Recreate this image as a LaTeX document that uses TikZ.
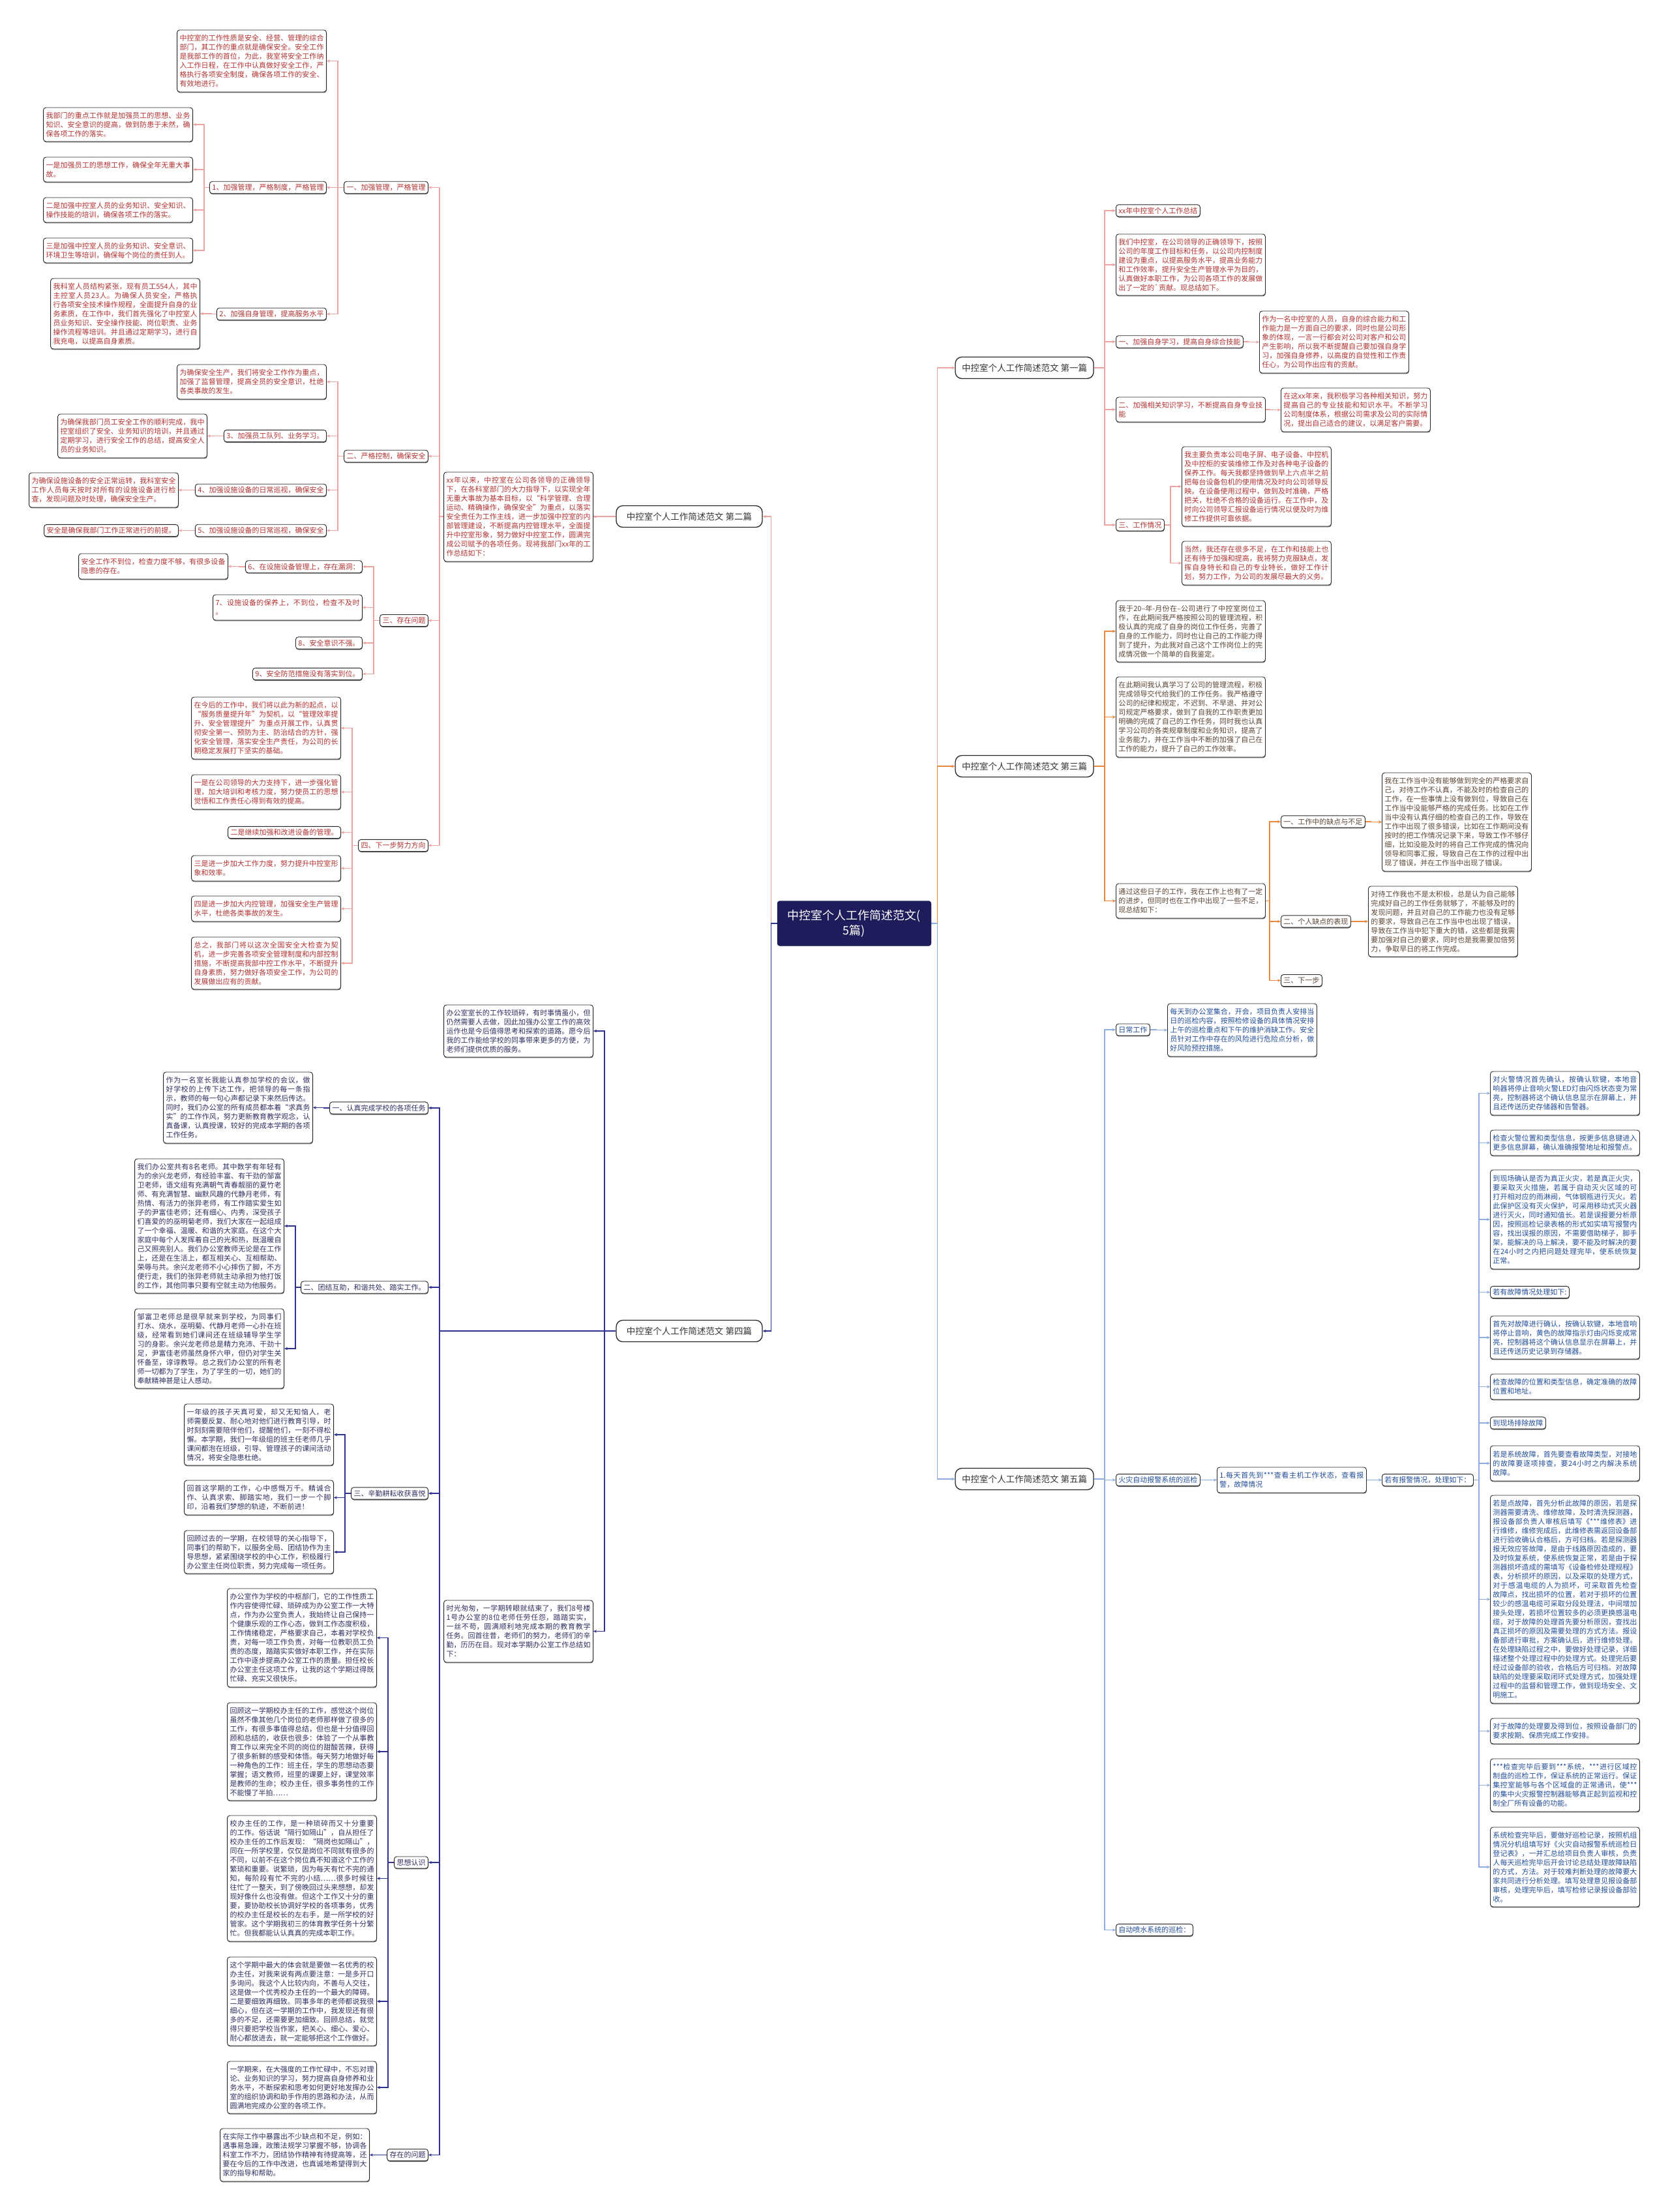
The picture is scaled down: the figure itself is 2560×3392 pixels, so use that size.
\documentclass[tikz,border=0pt]{standalone}
\usepackage{fontspec}
\setmainfont{Noto Sans CJK SC}
\usetikzlibrary{shapes,positioning,calc,arrows.meta,backgrounds,shadows}
\definecolor{redT}{rgb}{0.70,0.20,0.20}
\definecolor{redL}{rgb}{0.92,0.64,0.63}
\definecolor{orgT}{rgb}{0.36,0.27,0.21}
\definecolor{orgL}{rgb}{0.91,0.53,0.24}
\definecolor{navT}{rgb}{0.19,0.19,0.38}
\definecolor{navL}{rgb}{0.18,0.20,0.56}
\definecolor{bluT}{rgb}{0.14,0.31,0.60}
\definecolor{bluL}{rgb}{0.55,0.68,0.87}
\definecolor{rootC}{rgb}{0.12,0.11,0.36}
\XeTeXlinebreaklocale "zh"
\XeTeXlinebreakskip = 0pt plus 1pt

\begin{document}
\begin{tikzpicture}
  [x=1pt,y=-1pt,
   baseN/.style={draw=black!85,line width=0.9pt,rounded corners=4pt,fill=white,
     inner xsep=4pt,inner ysep=4pt,font=\fontsize{11}{14}\selectfont,
     drop shadow={shadow xshift=0.4pt,shadow yshift=-1.4pt,fill=black!55,opacity=1}},
   textN/.style={baseN,text width=221pt,align=justify},
   leafN/.style={baseN},
   topN/.style={draw=black!85,line width=1.3pt,rounded corners=10pt,fill=white,
     font=\fontsize{13.5}{16}\selectfont,text=black!80,minimum height=33pt},
   rootN/.style={draw=rootC,fill=rootC,rounded corners=4pt,text=white,align=center,
     font=\fontsize{18}{23}\selectfont,minimum width=236pt,minimum height=69pt},
   rT/.style={text=redT}, oT/.style={text=orgT}, nT/.style={text=navT}, bT/.style={text=bluT},
   linkR/.style={draw=redL,line width=1.2pt,-{Stealth[length=5pt,width=4.5pt]}},
   linkO/.style={draw=orgL,line width=1.2pt,-{Stealth[length=5pt,width=4.5pt]}},
   linkN/.style={draw=navL,line width=1.2pt,-{Stealth[length=5pt,width=4.5pt]}},
   linkB/.style={draw=bluL,line width=1.2pt,-{Stealth[length=5pt,width=4.5pt]}}]

  \useasboundingbox (0,0) rectangle (2560,3392);

  % root
  \node[rootN] (root) at (1310,1416) {中控室个人工作简述范文(\\5篇)};

  % main branches
  \node[topN,minimum width=224pt] (L2) at (1057,792) {中控室个人工作简述范文 第二篇};
  \node[topN,minimum width=224pt] (L4) at (1057,2041) {中控室个人工作简述范文 第四篇};
  \node[topN,minimum width=212pt] (L1) at (1571,564) {中控室个人工作简述范文 第一篇};
  \node[topN,minimum width=212pt] (L3) at (1571,1175) {中控室个人工作简述范文 第三篇};
  \node[topN,minimum width=212pt] (L5) at (1571,2268) {中控室个人工作简述范文 第五篇};

  % ---- second part (left, top)
  \node[textN,rT,anchor=east,minimum height=137pt] (intro2) at (910,792.5) {xx年以来，中控室在公司各领导的正确领导下，在各科室部门的大力指导下，以实现全年无重大事故为基本目标，以“科学管理、合理运动、精确操作，确保安全”为重点，以落实安全责任为工作主线，进一步加强中控室的内部管理建设，不断提高内控管理水平，全面提升中控室形象，努力做好中控室工作，圆满完成公司赋予的各项任务。现将我部门xx年的工作总结如下：};
  \node[leafN,rT,anchor=east] (k1) at (657,287.5) {一、加强管理，严格管理};
  \node[leafN,rT,anchor=east] (k2) at (657,699.5) {二、严格控制，确保安全};
  \node[leafN,rT,anchor=east] (k3) at (657,951.5) {三、存在问题};
  \node[leafN,rT,anchor=east] (k4) at (657,1296.5) {四、下一步努力方向};

  \node[textN,rT,anchor=east,minimum height=95pt] (a1) at (501,93.5) {中控室的工作性质是安全、经营、管理的综合部门，其工作的重点就是确保安全。安全工作是我部工作的首位，为此，我室将安全工作纳入工作日程，在工作中认真做好安全工作，严格执行各项安全制度，确保各项工作的安全、有效地进行。};
  \node[leafN,rT,anchor=east] (s1) at (501,287.5) {1、加强管理，严格制度，严格管理};
  \node[leafN,rT,anchor=east] (s2) at (501,481.5) {2、加强自身管理，提高服务水平};
  \node[textN,rT,anchor=east,minimum height=52pt] (b1) at (296,191) {我部门的重点工作就是加强员工的思想、业务知识、安全意识的提高，做到防患于未然，确保各项工作的落实。};
  \node[textN,rT,anchor=east,minimum height=38pt] (b2) at (296,260) {一是加强员工的思想工作，确保全年无重大事故。};
  \node[textN,rT,anchor=east,minimum height=38pt] (b3) at (296,322) {二是加强中控室人员的业务知识、安全知识、操作技能的培训，确保各项工作的落实。};
  \node[textN,rT,anchor=east,minimum height=38pt] (b4) at (296,384) {三是加强中控室人员的业务知识、安全意识、环境卫生等培训，确保每个岗位的责任到人。};
  \node[textN,rT,anchor=east,minimum height=108pt] (c1) at (307,481) {我科室人员结构紧张，现有员工554人，其中主控室人员23人。为确保人员安全，严格执行各项安全技术操作规程，全面提升自身的业务素质，在工作中，我们首先强化了中控室人员业务知识、安全操作技能、岗位职责、业务操作流程等培训。并且通过定期学习，进行自我充电，以提高自身素质。};

  \node[textN,rT,anchor=east,minimum height=53pt] (d0) at (501,585.5) {为确保安全生产，我们将安全工作作为重点，加强了监督管理，提高全员的安全意识，杜绝各类事故的发生。};
  \node[leafN,rT,anchor=east] (s3) at (501,668.5) {3、加强员工队列、业务学习。};
  \node[leafN,rT,anchor=east] (s4) at (501,751.5) {4、加强设施设备的日常巡视，确保安全};
  \node[leafN,rT,anchor=east] (s5) at (501,813.5) {5、加强设施设备的日常巡视，确保安全};
  \node[textN,rT,anchor=east,minimum height=67pt] (d3) at (318,668.5) {为确保我部门员工安全工作的顺利完成，我中控室组织了安全、业务知识的培训，并且通过定期学习，进行安全工作的总结，提高安全人员的业务知识。};
  \node[textN,rT,anchor=east,minimum height=53pt] (d4) at (274,751.5) {为确保设施设备的安全正常运转，我科室安全工作人员每天按时对所有的设施设备进行检查，发现问题及时处理，确保安全生产。};
  \node[leafN,rT,anchor=east] (d5) at (274,813.5) {安全是确保我部门工作正常进行的前提。};

  \node[leafN,rT,anchor=east] (s6) at (556,869) {6、在设施设备管理上，存在漏洞：};
  \node[textN,rT,anchor=east,minimum height=39pt] (s7) at (556,931.5) {7、设施设备的保养上，不到位，检查不及时 。};
  \node[leafN,rT,anchor=east] (s8) at (556,986) {8、安全意识不强。};
  \node[leafN,rT,anchor=east] (s9) at (556,1033.5) {9、安全防范措施没有落实到位。};
  \node[textN,rT,anchor=east,minimum height=39pt] (d6) at (350,868.5) {安全工作不到位，检查力度不够，有很多设备隐患的存在。};

  \node[textN,rT,anchor=east,minimum height=95pt] (e1) at (523,1116.5) {在今后的工作中，我们将以此为新的起点，以“服务质量提升年”为契机，以“管理效率提升、安全管理提升”为重点开展工作，认真贯彻安全第一、预防为主、防治结合的方针，强化安全管理，落实安全生产责任，为公司的长期稳定发展打下坚实的基础。};
  \node[textN,rT,anchor=east,minimum height=53pt] (e2) at (523,1214.5) {一是在公司领导的大力支持下，进一步强化管理，加大培训和考核力度，努力使员工的思想觉悟和工作责任心得到有效的提高。};
  \node[leafN,rT,anchor=east] (e3) at (523,1276.5) {二是继续加强和改进设备的管理。};
  \node[textN,rT,anchor=east,minimum height=39pt] (e4) at (523,1331.5) {三是进一步加大工作力度，努力提升中控室形象和效率。};
  \node[textN,rT,anchor=east,minimum height=39pt] (e5) at (523,1393.5) {四是进一步加大内控管理，加强安全生产管理水平，杜绝各类事故的发生。};
  \node[textN,rT,anchor=east,minimum height=80pt] (e6) at (523,1477) {总之，我部门将以这次全国安全大检查为契机，进一步完善各项安全管理制度和内部控制措施，不断提高我部中控工作水平，不断提升自身素质，努力做好各项安全工作，为公司的发展做出应有的贡献。};

  % ---- fourth part (left, bottom)
  \node[textN,nT,anchor=east,minimum height=80pt] (f0) at (910,1581) {办公室室长的工作较琐碎，有时事情虽小，但仍然需要人去做，因此加强办公室工作的高效运作也是今后值得思考和探索的道路。愿今后我的工作能给学校的同事带来更多的方便，为老师们提供优质的服务。};
  \node[leafN,nT,anchor=east] (g1) at (657,1699) {一、认真完成学校的各项任务};
  \node[leafN,nT,anchor=east] (g2) at (657,1974) {二、团结互助，和谐共处、踏实工作。};
  \node[leafN,nT,anchor=east] (g3) at (657,2290) {三、辛勤耕耘收获喜悦};
  \node[textN,nT,anchor=east,minimum height=95pt] (f1) at (910,2501.5) {时光匆匆，一学期转眼就结束了，我们8号楼1号办公室的8位老师任劳任怨，踏踏实实，一丝不苟，圆满顺利地完成本期的教育教学任务。回首往昔，老师们的努力，老师们的辛勤，历历在目。现对本学期办公室工作总结如下：};
  \node[leafN,nT,anchor=east] (g4) at (657,2856) {思想认识};
  \node[leafN,nT,anchor=east] (g5) at (657,3304.5) {存在的问题};

  \node[textN,nT,anchor=east,minimum height=109pt] (h1) at (480,1698.5) {作为一名室长我能认真参加学校的会议，做好学校的上传下达工作，把领导的每一条指示，教师的每一句心声都记录下来然后传达。同时，我们办公室的所有成员都本着“求真务实”的工作作风，努力更新教育教学观念，认真备课，认真授课，较好的完成本学期的各项工作任务。};
  \node[textN,nT,anchor=east,minimum height=206pt] (h2) at (436,1880) {我们办公室共有8名老师。其中数学有年轻有为的余兴龙老师，有经验丰富、有干劲的邹富卫老师，语文组有充满朝气青春靓丽的夏竹老师、有充满智慧、幽默风趣的代静月老师，有热情、有活力的张异老师，有工作踏实爱生如子的尹富佳老师；还有细心、内秀，深受孩子们喜爱的的巫明菊老师，我们大家在一起组成了一个幸福、温暖、和谐的大家庭。在这个大家庭中每个人发挥着自己的光和热，既温暖自己又照亮别人。我们办公室教师无论是在工作上，还是在生活上，都互相关心、互相帮助、荣辱与共。余兴龙老师不小心摔伤了脚，不方便行走，我们的张异老师就主动承担为他打饭的工作，其他同事只要有空就主动为他服务。};
  \node[textN,nT,anchor=east,minimum height=122pt] (h3) at (436,2068) {邹富卫老师总是很早就来到学校，为同事们打水、烧水，巫明菊、代静月老师一心扑在班级，经常看到她们课间还在班级辅导学生学习的身影。余兴龙老师总是精力充沛、干劲十足，尹富佳老师虽然身怀六甲，但仍对学生关怀备至，谆谆教导。总之我们办公室的所有老师一切都为了学生，为了学生的一切，她们的奉献精神甚是让人感动。};
  \node[textN,nT,anchor=east,minimum height=94pt] (h4) at (512,2200) {一年级的孩子天真可爱，却又无知恼人，老师需要反复、耐心地对他们进行教育引导，时时刻刻需要陪伴他们，提醒他们，一刻不得松懈。本学期，我们一年级组的班主任老师几乎课间都泡在班级，引导、管理孩子的课间活动情况，将安全隐患杜绝。};
  \node[textN,nT,anchor=east,minimum height=53pt] (h5) at (512,2296.5) {回首这学期的工作，心中感慨万千。精诚合作、认真求索、脚踏实地，我们一步一个脚印，沿着我们梦想的轨迹，不断前进！};
  \node[textN,nT,anchor=east,minimum height=66pt] (h6) at (512,2380) {回顾过去的一学期，在校领导的关心指导下，同事们的帮助下，以服务全局、团结协作为主导思想，紧紧围绕学校的中心工作，积极履行办公室主任岗位职责，努力完成每一项任务。};
  \node[textN,nT,anchor=east,minimum height=151pt] (h7) at (578,2511.5) {办公室作为学校的中枢部门，它的工作性质工作内容使得忙碌、琐碎成为办公室工作一大特点，作为办公室负责人，我始终让自己保持一个健康乐观的工作心态，做到工作态度积极，工作情绪稳定，严格要求自己，本着对学校负责，对每一项工作负责，对每一位教职员工负责的态度，踏踏实实做好本职工作，并在实际工作中逐步提高办公室工作的质量。担任校长办公室主任这项工作，让我的这个学期过得既忙碌、充实又很快乐。};
  \node[textN,nT,anchor=east,minimum height=150pt] (h8) at (578,2686) {回顾这一学期校办主任的工作，感觉这个岗位虽然不像其他几个岗位的老师那样做了很多的工作，有很多事值得总结，但也是十分值得回顾和总结的，收获也很多：体验了一个从事教育工作以来完全不同的岗位的甜酸苦辣，获得了很多新鲜的感受和体悟。每天努力地做好每一种角色的工作：班主任，学生的思想动态要掌握；语文教师，班里的课要上好，课堂效率是教师的生命；校办主任，很多事务性的工作不能慢了半拍……};
  \node[textN,nT,anchor=east,minimum height=193pt] (h9) at (578,2880.5) {校办主任的工作，是一种琐碎而又十分重要的工作。俗话说“隔行如隔山”，自从担任了校办主任的工作后发现：“隔岗也如隔山”，同在一所学校里，仅仅是岗位不同就有很多的不同，以前不在这个岗位真不知道这个工作的繁琐和重要。说繁琐，因为每天有忙不完的通知，每阶段有忙不完的小结……很多时候往往忙了一整天，到了傍晚回过头来想想，却发现好像什么也没有做。但这个工作又十分的重要，要协助校长协调好学校的各项事务，优秀的校办主任是校长的左右手，是一所学校的好管家。这个学期我初三的体育教学任务十分繁忙。但我都能认认真真的完成本职工作。};
  \node[textN,nT,anchor=east,minimum height=136pt] (h10) at (578,3069) {这个学期中最大的体会就是要做一名优秀的校办主任，对我来说有两点要注意：一是多开口多询问。我这个人比较内向，不善与人交往，这是做一个优秀校办主任的一个最大的障碍。二是要细致再细致。同事多年的老师都说我很细心，但在这一学期的工作中，我发现还有很多的不足，还需要更加细致。回顾总结，就觉得只要把学校当作家，把关心、细心、爱心、耐心都放进去，就一定能够把这个工作做好。};
  \node[textN,nT,anchor=east,minimum height=80pt] (h11) at (578,3201) {一学期来，在大强度的工作忙碌中，不忘对理论、业务知识的学习，努力提高自身修养和业务水平，不断探索和思考如何更好地发挥办公室的组织协调和助手作用的思路和办法，从而圆满地完成办公室的各项工作。};
  \node[textN,nT,anchor=east,minimum height=81pt] (h12) at (567,3304.5) {在实际工作中暴露出不少缺点和不足，例如：遇事易急躁，政策法规学习掌握不够，协调各科室工作不力，团结协作精神有待提高等，还要在今后的工作中改进，也真诚地希望得到大家的指导和帮助。};

  % ---- first part (right, top)
  \node[leafN,rT,anchor=west] (m0) at (1711,323) {xx年中控室个人工作总结};
  \node[textN,rT,anchor=west,minimum height=94pt] (m1) at (1711,406) {我们中控室，在公司领导的正确领导下，按照公司的年度工作目标和任务，以公司内控制度建设为重点，以提高服务水平，提高业务能力和工作效率，提升安全生产管理水平为目的，认真做好本职工作，为公司各项工作的发展做出了一定的\textasciigrave 贡献。现总结如下。};
  \node[leafN,rT,anchor=west] (n1) at (1711,524) {一、加强自身学习，提高自身综合技能};
  \node[textN,rT,anchor=west,minimum height=38pt] (n2) at (1711,628) {二、加强相关知识学习，不断提高自身专业技能};
  \node[leafN,rT,anchor=west] (n3) at (1711,805) {三、工作情况};
  \node[textN,rT,anchor=west,minimum height=95pt] (p1) at (1931,524.5) {作为一名中控室的人员，自身的综合能力和工作能力是一方面自己的要求，同时也是公司形象的体现，一言一行都会对公司对客户和公司产生影响，所以我不断提醒自己要加强自身学习，加强自身修养，以高度的自觉性和工作责任心，为公司作出应有的贡献。};
  \node[textN,rT,anchor=west,minimum height=67pt] (p2) at (1964,628.5) {在这xx年来，我积极学习各种相关知识，努力提高自己的专业技能和知识水平。不断学习公司制度体系，根据公司需求及公司的实际情况，提出自己适合的建议，以满足客户需要。};
  \node[textN,rT,anchor=west,minimum height=122pt] (p3) at (1812,746) {我主要负责本公司电子屏、电子设备、中控机及中控柜的安装维修工作及对各种电子设备的保养工作。每天我都坚持做到早上六点半之前把每台设备包机的使用情况及时向公司领导反映。在设备使用过程中，做到及时准确，严格把关，杜绝不合格的设备运行。在工作中，及时向公司领导汇报设备运行情况以便及时为维修工作提供可靠依据。};
  \node[textN,rT,anchor=west,minimum height=67pt] (p4) at (1812,863.5) {当然，我还存在很多不足，在工作和技能上也还有待于加强和提高，我将努力克服缺点，发挥自身特长和自己的专业特长，做好工作计划，努力工作，为公司的发展尽最大的义务。};

  % ---- third part (right, middle)
  \node[textN,oT,anchor=west,minimum height=94pt] (q1) at (1711,968) {我于20--年-月份在--公司进行了中控室岗位工作，在此期间我严格按照公司的管理流程，积极认真的完成了自身的岗位工作任务，完善了自身的工作能力，同时也让自己的工作能力得到了提升，为此我对自己这个工作岗位上的完成情况做一个简单的自我鉴定。};
  \node[textN,oT,anchor=west,minimum height=123pt] (q2) at (1711,1099.5) {在此期间我认真学习了公司的管理流程，积极完成领导交代给我们的工作任务。我严格遵守公司的纪律和规定，不迟到、不早退、并对公司规定严格要求，做到了自我的工作职责更加明确的完成了自己的工作任务，同时我也认真学习公司的各类规章制度和业务知识，提高了业务能力，并在工作当中不断的加强了自己在工作的能力，提升了自己的工作效率。};
  \node[textN,oT,anchor=west,minimum height=53pt] (q3) at (1711,1381.5) {通过这些日子的工作，我在工作上也有了一定的进步，但同时也在工作中出现了一些不足，现总结如下：};
  \node[leafN,oT,anchor=west] (r1) at (1964,1260) {一、工作中的缺点与不足};
  \node[leafN,oT,anchor=west] (r2) at (1964,1413) {二、个人缺点的表现};
  \node[leafN,oT,anchor=west] (r3) at (1964,1503.5) {三、下一步};
  \node[textN,oT,anchor=west,minimum height=151pt] (t1) at (2119,1260.5) {我在工作当中没有能够做到完全的严格要求自己，对待工作不认真，不能及时的检查自己的工作，在一些事情上没有做到位，导致自己在工作当中没能够严格的完成任务。比如在工作当中没有认真仔细的检查自己的工作，导致在工作中出现了很多错误，比如在工作期间没有按时的把工作情况记录下来，导致工作不够仔细，比如没能及时的将自己工作完成的情况向领导和同事汇报，导致自己在工作的过程中出现了错误，并在工作当中出现了错误。};
  \node[textN,oT,anchor=west,minimum height=108pt] (t2) at (2098,1413) {对待工作我也不是太积极，总是认为自己能够完成好自己的工作任务就够了，不能够及时的发现问题，并且对自己的工作能力也没有足够的要求，导致自己在工作当中也出现了错误，导致在工作当中犯下重大的错，这些都是我需要加强对自己的要求，同时也是我需要加倍努力，争取早日的将工作完成。};

  % ---- fifth part (right, bottom)
  \node[leafN,bT,anchor=west] (u1) at (1711,1579) {日常工作};
  \node[textN,bT,anchor=west,minimum height=81pt] (v1) at (1790,1579.5) {每天到办公室集合，开会，项目负责人安排当日的巡检内容，按照检修设备的具体情况安排上午的巡检重点和下午的维护消缺工作。安全员针对工作中存在的风险进行危险点分析，做好风险预控措施。};
  \node[leafN,bT,anchor=west] (u2) at (1711,2269.5) {火灾自动报警系统的巡检};
  \node[textN,bT,anchor=west,minimum height=39pt] (v2) at (1866,2269.5) {1.每天首先到***查看主机工作状态，查看报警，故障情况};
  \node[leafN,bT,anchor=west] (v3) at (2119,2269.5) {若有报警情况，处理如下：};
  \node[leafN,bT,anchor=west] (u3) at (1711,2959.5) {自动喷水系统的巡检：};

  \node[textN,bT,anchor=west,minimum height=67pt] (w1) at (2285,1676.5) {对火警情况首先确认，按确认软键，本地音响器将停止音响火警LED灯由闪烁状态变为常亮，控制器将这个确认信息显示在屏幕上，并且还传送历史存储器和告警器。};
  \node[textN,bT,anchor=west,minimum height=39pt] (w2) at (2285,1752.5) {检查火警位置和类型信息，按更多信息键进入更多信息屏幕，确认准确报警地址和报警点。};
  \node[textN,bT,anchor=west,minimum height=152pt] (w3) at (2285,1870) {到现场确认是否为真正火灾，若是真正火灾，要采取灭火措施，若属于自动灭火区域的可打开相对应的雨淋阀，气体钢瓶进行灭火。若此保护区没有灭火保护，可采用移动式灭火器进行灭火，同时通知值长。若是误报要分析原因，按照巡检记录表格的形式如实填写报警内容，找出误报的原因，不需要借助梯子，脚手架，能解决的马上解决，要不能及时解决的要在24小时之内把问题处理完毕，使系统恢复正常。};
  \node[leafN,bT,anchor=west] (w4) at (2285,1981.5) {若有故障情况处理如下:};
  \node[textN,bT,anchor=west,minimum height=66pt] (w5) at (2285,2051) {首先对故障进行确认，按确认软键，本地音响将停止音响，黄色的故障指示灯由闪烁变成常亮，控制器将这个确认信息显示在屏幕上，并且还传送历史记录到存储器。};
  \node[textN,bT,anchor=west,minimum height=39pt] (w6) at (2285,2126.5) {检查故障的位置和类型信息，确定准确的故障位置和地址。};
  \node[leafN,bT,anchor=west] (w7) at (2285,2182) {到现场排除故障};
  \node[textN,bT,anchor=west,minimum height=54pt] (w8) at (2285,2244) {若是系统故障，首先要查看故障类型，对接地的故障要逐项排查，要24小时之内解决系统故障。};
  \node[textN,bT,anchor=west,minimum height=319pt] (w9) at (2285,2452.5) {若是点故障，首先分析此故障的原因，若是探测器需要清洗、维修故障，及时清洗探测器，报设备部负责人审核后填写《***维修表》进行维修，维修完成后，此维修表需返回设备部进行验收确认合格后，方可归档。若是探测器报无效应答故障，是由于线路原因造成的，要及时恢复系统，使系统恢复正常，若是由于探测器损坏造成的需填写《设备检修处理规程》表，分析损坏的原因，以及采取的处理方式，对于感温电缆的人为损坏，可采取首先检查故障点，找出损坏的位置，若对于损坏的位置较少的感温电缆可采取分段处理法，中间增加接头处理，若损坏位置较多的必须更换感温电缆，对于故障的处理首先要分析原因，查找出真正损坏的原因及需要处理的方式方法。报设备部进行审批，方案确认后，进行维修处理。在处理缺陷过程之中，要做好处理记录，详细描述整个处理过程中的处理方式。处理完后要经过设备部的验收，合格后方可归档。对故障缺陷的处理要采取闭环式处理方式，加强处理过程中的监督和管理工作，做到现场安全、文明施工。};
  \node[textN,bT,anchor=west,minimum height=39pt] (w10) at (2285,2654.5) {对于故障的处理要及得到位，按照设备部门的要求按期、保质完成工作安排。};
  \node[textN,bT,anchor=west,minimum height=81pt] (w11) at (2285,2737.5) {***检查完毕后要到***系统，***进行区域控制盘的巡检工作，保证系统的正常运行。保证集控室能够与各个区域盘的正常通讯，使***的集中火灾报警控制器能够真正起到监视和控制全厂所有设备的功能。};
  \node[textN,bT,anchor=west,minimum height=122pt] (w12) at (2285,2863) {系统检查完毕后，要做好巡检记录，按照机组情况分机组填写好《火灾自动报警系统巡检日登记表》，一并汇总给项目负责人审核，负责人每天巡检完毕后开会讨论总结处理故障缺陷的方式，方法。对于较难判断处理的故障要大家共同进行分析处理。填写处理意见报设备部审核，处理完毕后，填写检修记录报设备部验收。};

  % connectors
  \begin{scope}[on background layer]
    \fill[white] (0,0) rectangle (2560,3392);

    \draw[linkR] (root.west) -- ++(-9,0) |- (L2.east);
    \draw[linkN] (root.west) -- ++(-9,0) |- (L4.east);
    \draw[linkR] (root.east) -- ++(9,0) |- (L1.west);
    \draw[linkO] (root.east) -- ++(9,0) |- (L3.west);
    \draw[linkB] (root.east) -- ++(9,0) |- (L5.west);

    % left side
    \foreach \p/\c in {L2/intro2,L2/k1,L2/k2,L2/k3,L2/k4,
        k1/a1,k1/s1,k1/s2,s1/b1,s1/b2,s1/b3,s1/b4,s2/c1,
        k2/d0,k2/s3,k2/s4,k2/s5,s3/d3,s4/d4,s5/d5,
        k3/s6,k3/s7,k3/s8,k3/s9,s6/d6,
        k4/e1,k4/e2,k4/e3,k4/e4,k4/e5,k4/e6}
      \draw[linkR] (\p.west) -- ([xshift=17pt]\c.east |- \p.west) |- (\c.east);

    \foreach \p/\c in {L4/f0,L4/g1,L4/g2,L4/g3,L4/f1,L4/g4,L4/g5,
        g1/h1,g2/h2,g2/h3,g3/h4,g3/h5,g3/h6,
        g4/h7,g4/h8,g4/h9,g4/h10,g4/h11,g5/h12}
      \draw[linkN] (\p.west) -- ([xshift=17pt]\c.east |- \p.west) |- (\c.east);

    % right side
    \foreach \p/\c in {L1/m0,L1/m1,L1/n1,L1/n2,L1/n3,
        n1/p1,n2/p2,n3/p3,n3/p4}
      \draw[linkR] (\p.east) -- ([xshift=-17pt]\c.west |- \p.east) |- (\c.west);

    \foreach \p/\c in {L3/q1,L3/q2,L3/q3,q3/r1,q3/r2,q3/r3,r1/t1,r2/t2}
      \draw[linkO] (\p.east) -- ([xshift=-17pt]\c.west |- \p.east) |- (\c.west);

    \foreach \p/\c in {L5/u1,L5/u2,L5/u3,u1/v1,u2/v2,v2/v3,
        v3/w1,v3/w2,v3/w3,v3/w4,v3/w5,v3/w6,v3/w7,v3/w8,v3/w9,v3/w10,v3/w11,v3/w12}
      \draw[linkB] (\p.east) -- ([xshift=-17pt]\c.west |- \p.east) |- (\c.west);
  \end{scope}

\end{tikzpicture}
\end{document}
